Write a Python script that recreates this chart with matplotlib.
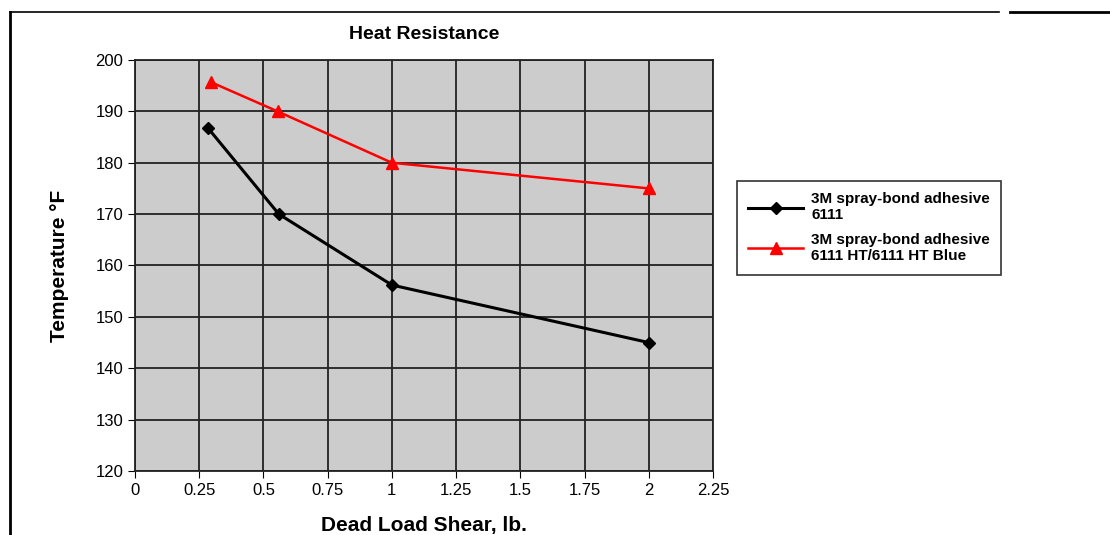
# Heat resistance chart: temperature vs dead load shear
import matplotlib
matplotlib.use('Agg')
from matplotlib import pyplot as plt
from matplotlib.lines import Line2D

plt.rcParams['font.family'] = ['Liberation Sans', 'DejaVu Sans']

shear_6111 = [0.285, 0.56, 1.0, 2.0]
temp_6111 = [186.7, 170, 156.2, 145]
shear_ht = [0.295, 0.555, 1.0, 2.0]
temp_ht = [195.7, 190, 180, 175]
label_6111 = '3M spray-bond adhesive\n6111'
label_ht = '3M spray-bond adhesive\n6111 HT/6111 HT Blue'
xticks = [0, 0.25, 0.5, 0.75, 1, 1.25, 1.5, 1.75, 2, 2.25]
xtick_labels = ['0', '0.25', '0.5', '0.75', '1', '1.25', '1.5', '1.75', '2', '2.25']
yticks = [120, 130, 140, 150, 160, 170, 180, 190, 200]

fig = plt.figure(figsize=(11.1, 5.35), dpi=100)
ax = fig.add_axes([0.1216, 0.1196, 0.5207, 0.7683])
ax.set_facecolor('#cccccc')

ax.plot(shear_6111, temp_6111, color='black', lw=2.2, marker='D', ms=6,
        label=label_6111)
ax.plot(shear_ht, temp_ht, color='red', lw=1.8, marker='^', ms=8,
        label=label_ht)

ax.set_xlim(0, 2.25)
ax.set_ylim(120, 200)
ax.set_xticks(xticks)
ax.set_xticklabels(xtick_labels)
ax.set_yticks(yticks)
ax.tick_params(labelsize=12, length=5, color='black')
ax.grid(color='#222222', lw=1.3)
ax.set_axisbelow(True)
for s in ax.spines.values():
    s.set_color('#222222')
    s.set_linewidth(1.3)

ax.set_title('Heat Resistance', fontsize=14, fontweight='bold', pad=15)
ax.set_xlabel('Dead Load Shear, lb.', fontsize=15, fontweight='bold', labelpad=13)
ax.set_ylabel('Temperature \u00b0F', fontsize=15, fontweight='bold', labelpad=19)

leg = fig.legend(loc='upper left', bbox_to_anchor=(0.664, 0.662),
                 prop={'weight': 'bold', 'size': 11}, frameon=True,
                 fancybox=False, edgecolor='black', handlelength=3.6,
                 labelspacing=0.7, borderpad=0.75, handletextpad=0.5,
                 borderaxespad=0)
leg.get_frame().set_linewidth(1.2)

# page border lines
fig.add_artist(Line2D([0.009, 0.009], [0, 0.978], color='black', lw=2))
fig.add_artist(Line2D([0.009, 0.9], [0.978, 0.978], color='black', lw=1.2))
fig.add_artist(Line2D([0.91, 1.0], [0.978, 0.978], color='black', lw=2))

fig.savefig('out.png', dpi=100)
